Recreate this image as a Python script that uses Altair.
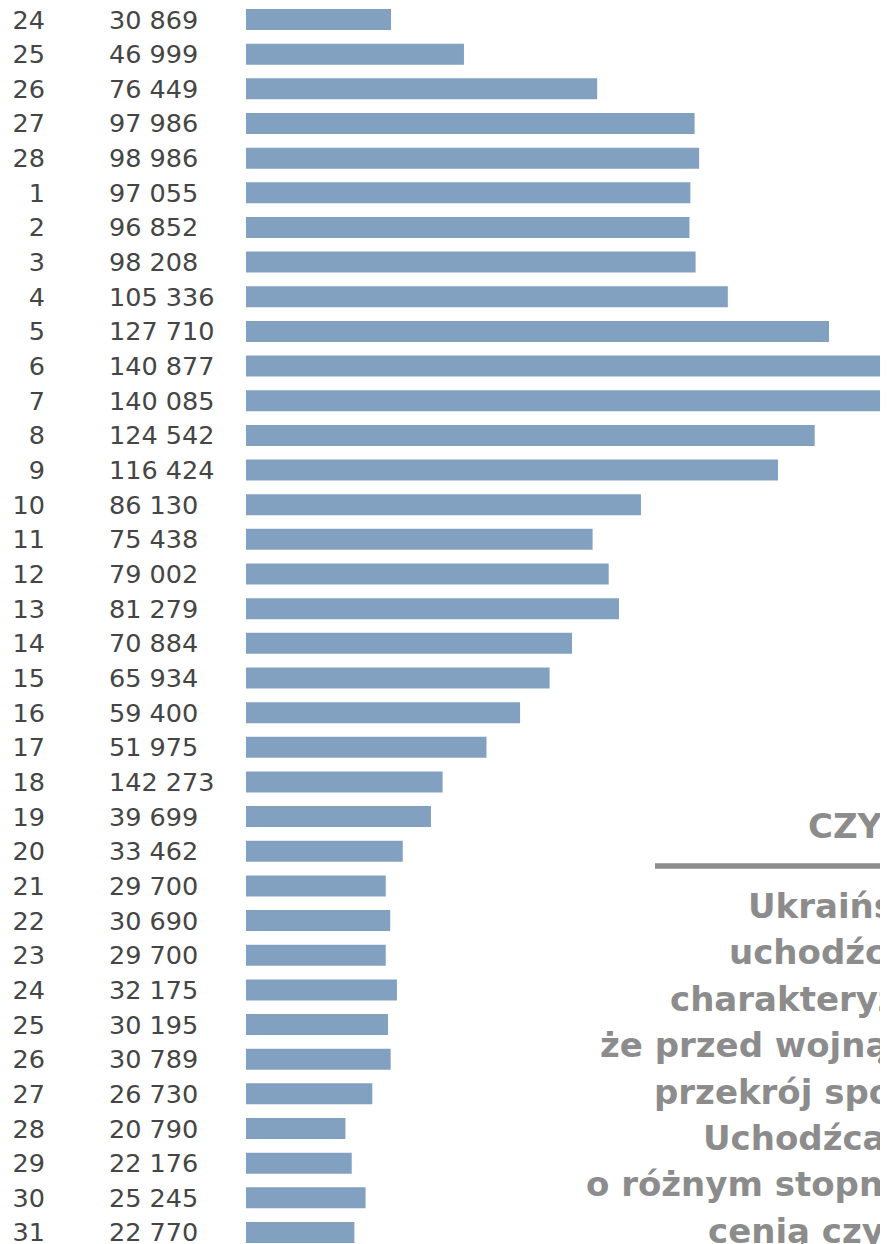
import altair as alt
import pandas as pd

days = ["24", "25", "26", "27", "28",
        "1", "2", "3", "4", "5", "6", "7", "8", "9", "10",
        "11", "12", "13", "14", "15", "16", "17", "18", "19", "20",
        "21", "22", "23", "24", "25", "26", "27", "28", "29", "30", "31"]

labels = ["30 869", "46 999", "76 449", "97 986", "98 986",
          "97 055", "96 852", "98 208", "105 336", "127 710", "140 877", "140 085",
          "124 542", "116 424", "86 130", "75 438", "79 002", "81 279", "70 884",
          "65 934", "59 400", "51 975", "142 273", "39 699", "33 462", "29 700",
          "30 690", "29 700", "32 175", "30 195", "30 789", "26 730", "20 790",
          "22 176", "25 245", "22 770"]

values = [30869, 46999, 76449, 97986, 98986,
          97055, 96852, 98208, 105336, 127710, 140877, 140085,
          124542, 116424, 86130, 75438, 79002, 81279, 70884,
          65934, 59400, 51975, 42273, 39699, 33462, 29700,
          30690, 29700, 32175, 30195, 30789, 26730, 20790,
          22176, 25245, 22770]

heading = "CZY"
paragraph = ["Ukraińs", "uchodźc", "charakteryz", "że przed wojną",
             "przekrój spo", "Uchodźca", "o różnym stopn", "cenią czy"]

df = pd.DataFrame({
    "row": list(range(len(days))),
    "day": days,
    "label": labels,
    "value": values,
})

BAR = "#82a1c1"
TXT = "#454545"
GRAY = "#8c8c8c"

y = alt.Y("row:O",
          scale=alt.Scale(domain=list(range(len(days))), range=[1, 1235],
                          paddingInner=0.394, paddingOuter=0),
          axis=None)

base = alt.Chart(df)

bars = base.mark_bar(color=BAR).encode(
    x=alt.X("value:Q", stack=None,
            scale=alt.Scale(domain=[0, 140085], range=[243.4, 877]), axis=None),
    x2=alt.value(238),
    y=y,
)

day_text = base.mark_text(align="right", baseline="middle", font="DejaVu Sans",
                          fontSize=25.5, color=TXT, dy=1).encode(
    x=alt.value(37), y=y, text="day:N")

val_text = base.mark_text(align="left", baseline="middle", font="DejaVu Sans",
                          fontSize=25.5, color=TXT, dy=1).encode(
    x=alt.value(101), y=y, text="label:N")

one = pd.DataFrame({"a": [0]})

rule = alt.Chart(one).mark_rule(color=GRAY, strokeWidth=5.5).encode(
    x=alt.value(647), x2=alt.value(900), y=alt.value(858))

head = alt.Chart(pd.DataFrame({"t": [heading]})).mark_text(
    align="left", baseline="alphabetic", font="DejaVu Sans", fontWeight="bold",
    fontSize=34, color=GRAY).encode(x=alt.value(800), y=alt.value(830), text="t:N")

starts = [740, 721, 662, 592, 646, 695, 578, 700]
layers = [bars, day_text, val_text, rule, head]
for i, (line, sx) in enumerate(zip(paragraph, starts)):
    layers.append(
        alt.Chart(pd.DataFrame({"t": [line]})).mark_text(
            align="left", baseline="alphabetic", font="DejaVu Sans", fontWeight="bold",
            fontSize=34, color=GRAY).encode(
            x=alt.value(sx), y=alt.value(910 + 46.4 * i), text="t:N")
    )

chart = alt.layer(*layers).properties(
    width=872, height=1236,
    autosize=alt.AutoSizeParams(type="none"),
    padding={"left": 0, "top": 0, "right": 0, "bottom": 0},
).configure_view(stroke=None)

chart.save("out.html", embed_options={"renderer": "svg", "actions": False})
